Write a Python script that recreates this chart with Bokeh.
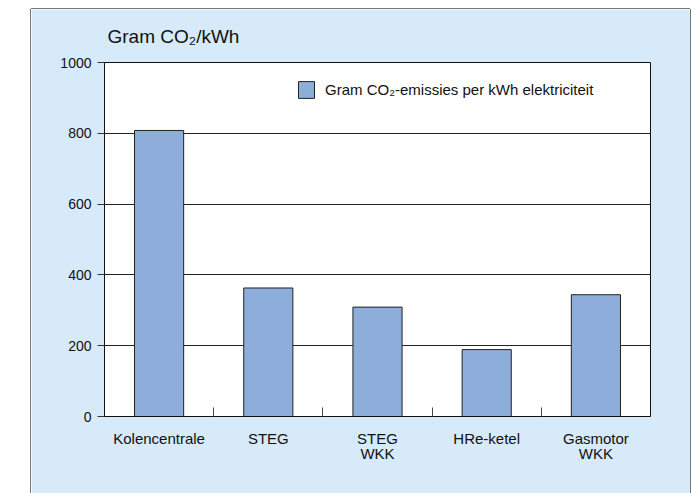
from bokeh.plotting import figure
from bokeh.models import (FixedTicker, Legend, LegendItem, Spacer, Range1d,
                          CustomJSTickFormatter)
from bokeh.layouts import row, column
from bokeh.embed import file_html
from bokeh.resources import INLINE

# ---- data ----
categories = ["Kolencentrale", "STEG", "STEG\nWKK", "HRe-ketel", "Gasmotor\nWKK"]
values = [808, 363, 309, 189, 344]
y_ticks = [0, 200, 400, 600, 800, 1000]
series_name = "Gram CO₂-emissies per kWh elektriciteit"
axis_title = "Gram CO₂/kWh"

x = [i + 0.5 for i in range(len(categories))]
boundaries = list(range(1, len(categories)))

FONT = "Liberation Sans"
PANEL = "#d6eaf9"
BAR = "#8daedb"

p = figure(width=659, height=484, output_backend="svg", toolbar_location=None,
           x_range=Range1d(0, len(categories)), y_range=Range1d(0, 1000),
           min_border_left=73, min_border_right=40, min_border_top=53,
           min_border_bottom=77, border_fill_color=PANEL,
           background_fill_color="white")

r = p.vbar(x=x, top=values, width=0.45, fill_color=BAR,
           line_color="#222222", line_width=1)

# title (axis unit)
p.title.text = axis_title
p.title.align = "left"
p.title.vertical_align = "top"
p.title.offset = 3
p.title.standoff = 28
p.title.text_font = FONT
p.title.text_font_size = "19px"
p.title.text_font_style = "normal"
p.title.text_color = "#111111"

# y axis
p.yaxis.ticker = FixedTicker(ticks=y_ticks)
p.yaxis.major_tick_out = 7
p.yaxis.major_tick_in = 0
p.yaxis.minor_tick_out = 0
p.yaxis.minor_tick_in = 0
p.yaxis.major_label_standoff = 6
p.yaxis.major_label_text_font = FONT
p.yaxis.major_label_text_font_size = "14px"
p.yaxis.major_label_text_color = "#111111"
p.yaxis.axis_line_color = "#111111"
p.yaxis.major_tick_line_color = "#333333"

# x axis
p.xaxis.ticker = FixedTicker(ticks=x, minor_ticks=boundaries)
p.xaxis.formatter = CustomJSTickFormatter(args=dict(labels=categories),
                                          code="return labels[Math.floor(tick)];")
p.xaxis.major_tick_in = 0
p.xaxis.major_tick_out = 0
p.xaxis.minor_tick_in = 9
p.xaxis.minor_tick_out = 0
p.xaxis.minor_tick_line_color = "#444444"
p.xaxis.major_label_standoff = 13
p.xaxis.major_label_text_font = FONT
p.xaxis.major_label_text_font_size = "15px"
p.xaxis.major_label_text_line_height = 0.9
p.xaxis.major_label_text_color = "#111111"
p.xaxis.axis_line_color = "#111111"

# grid
p.xgrid.visible = False
p.ygrid.ticker = FixedTicker(ticks=y_ticks)
p.ygrid.grid_line_color = "#222222"
p.ygrid.grid_line_width = 1

p.outline_line_color = "#111111"
p.outline_line_width = 1

legend = Legend(items=[LegendItem(label=series_name, renderers=[r])],
                location=(192, 316), padding=0, margin=0, spacing=0,
                glyph_width=20, glyph_height=21, label_standoff=9,
                label_text_font=FONT, label_text_font_size="15px",
                label_text_color="#111111", border_line_alpha=0,
                background_fill_alpha=0)
p.add_layout(legend)

p.styles = {"box-shadow": "-1px 0 0 #777777, 1px 0 0 #777777, 0 -1px 0 #777777"}

layout = column(Spacer(height=9), row(Spacer(width=31), p))

open("out.html", "w").write(file_html(layout, INLINE))
